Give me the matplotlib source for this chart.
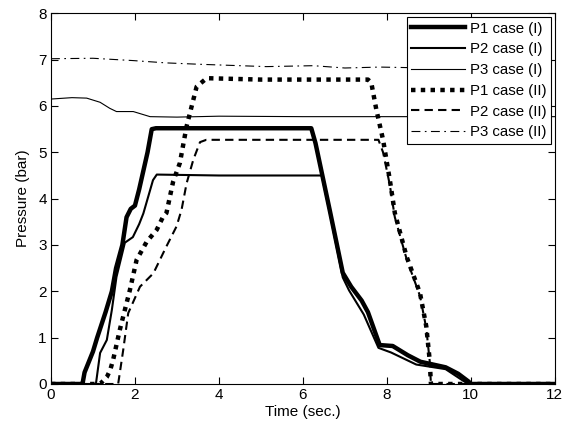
import matplotlib
matplotlib.use("Agg")
import matplotlib.pyplot as plt

plt.rcParams['font.family'] = ['Liberation Sans', 'DejaVu Sans']

# P1 case (I)
t_p1_i = [0, 0.75, 0.8, 1.0, 1.1, 1.3, 1.45, 1.55, 1.7, 1.8, 1.9, 2.0, 2.1, 2.2, 2.3, 2.4, 2.5,
          4.0, 6.2, 6.3, 6.64, 6.95, 7.15, 7.4, 7.55, 7.83, 8.14, 8.5, 8.8, 9.4, 9.7, 9.95, 10.0, 12.0]
p_p1_i = [0, 0, 0.25, 0.7, 1.0, 1.55, 2.0, 2.5, 3.0, 3.6, 3.78, 3.85, 4.2, 4.6, 5.0, 5.5, 5.52,
          5.52, 5.52, 5.2, 3.75, 2.4, 2.1, 1.8, 1.55, 0.84, 0.82, 0.62, 0.48, 0.36, 0.22, 0.05, 0, 0]

# P2 case (I)
t_p2_i = [0, 1.07, 1.17, 1.33, 1.45, 1.56, 1.76, 1.95, 2.1, 2.2, 2.43, 2.52, 4.0, 6.45,
          6.64, 6.95, 7.1, 7.45, 7.8, 8.1, 8.7, 9.4, 9.85, 9.95, 12.0]
p_p2_i = [0, 0, 0.67, 0.95, 1.6, 2.31, 3.05, 3.17, 3.45, 3.68, 4.4, 4.52, 4.5, 4.5,
          3.7, 2.3, 2.02, 1.5, 0.78, 0.68, 0.42, 0.32, 0.05, 0, 0]

# P3 case (I)
t_p3_i = [0, 0.5, 0.85, 1.17, 1.4, 1.56, 1.96, 2.36, 3.0, 4.0, 6.0, 8.0, 10.0, 12.0]
p_p3_i = [6.15, 6.18, 6.17, 6.08, 5.95, 5.88, 5.88, 5.77, 5.76, 5.78, 5.77, 5.77, 5.77, 5.77]

# P1 case (II)
t_p1_ii = [0, 1.17, 1.33, 1.41, 1.48, 1.64, 1.76, 1.88, 2.04, 2.28, 2.52, 2.67, 2.75, 2.91,
           3.07, 3.23, 3.35, 3.47, 3.71, 5.0, 7.55, 7.63, 7.75, 7.91, 8.07, 8.19, 8.47,
           8.79, 8.94, 9.02, 9.05, 12.0]
p_p1_ii = [0, 0, 0.15, 0.3, 0.52, 1.17, 1.6, 2.03, 2.68, 3.07, 3.33, 3.61, 3.69, 4.37,
           4.77, 5.56, 5.99, 6.42, 6.6, 6.57, 6.57, 6.5, 5.92, 5.27, 4.41, 3.69, 2.75,
           1.96, 1.24, 0.52, 0, 0]

# P2 case (II)
t_p2_ii = [0, 1.6, 1.72, 1.84, 2.12, 2.44, 2.75, 2.99, 3.11, 3.23, 3.39, 3.55, 3.7, 5.0,
           7.8, 7.91, 8.07, 8.19, 8.47, 8.79, 8.94, 9.02, 9.05, 11.9]
p_p2_ii = [0, 0, 0.73, 1.53, 2.1, 2.39, 2.97, 3.4, 3.76, 4.33, 4.84, 5.22, 5.27, 5.27,
           5.27, 5.0, 4.3, 3.6, 2.7, 1.9, 1.2, 0.5, 0, 0]

# P3 case (II)
t_p3_ii = [0, 1.0, 1.96, 2.75, 3.55, 5.13, 6.25, 7.0, 7.83, 9.0, 12.0]
p_p3_ii = [7.02, 7.03, 6.98, 6.93, 6.9, 6.85, 6.87, 6.82, 6.84, 6.82, 6.82]

labels = ['P1 case (I)', 'P2 case (I)', 'P3 case (I)',
          'P1 case (II)', 'P2 case (II)', 'P3 case (II)']
x_ticks = [0, 2, 4, 6, 8, 10, 12]
y_ticks = [0, 1, 2, 3, 4, 5, 6, 7, 8]

fig = plt.figure(figsize=(5.69, 4.30), dpi=100)
ax = fig.add_axes([0.0896, 0.107, 0.8854, 0.862])

ax.plot(t_p1_i, p_p1_i, color='black', lw=3.2, ls='-', label=labels[0])
ax.plot(t_p2_i, p_p2_i, color='black', lw=1.5, ls='-', label=labels[1])
ax.plot(t_p3_i, p_p3_i, color='black', lw=0.8, ls='-', label=labels[2])
ax.plot(t_p1_ii, p_p1_ii, color='black', lw=3.2, ls=(0, (1, 1.2)), label=labels[3])
ax.plot(t_p2_ii, p_p2_ii, color='black', lw=1.5, ls=(0, (4, 2.5)), label=labels[4])
ax.plot(t_p3_ii, p_p3_ii, color='black', lw=0.8, ls=(0, (8, 4, 1.5, 4)), label=labels[5])

ax.set_xlim(0, 12)
ax.set_ylim(0, 8)
ax.set_xticks(x_ticks)
ax.set_yticks(y_ticks)
ax.tick_params(direction='in', top=True, right=True, length=5, width=0.8,
               labelsize=11, pad=3)
for s in ax.spines.values():
    s.set_linewidth(0.8)
ax.set_xlabel('Time (sec.)', fontsize=11, labelpad=2)
ax.set_ylabel('Pressure (bar)', fontsize=11, labelpad=6)

leg = ax.legend(loc='upper right', fontsize=10.8, handlelength=3.6, handletextpad=0.3,
                labelspacing=0.45, borderaxespad=0.25, fancybox=False, framealpha=1,
                edgecolor='black', borderpad=0.3)
leg.get_frame().set_linewidth(0.8)

fig.savefig('out.png', dpi=100)
